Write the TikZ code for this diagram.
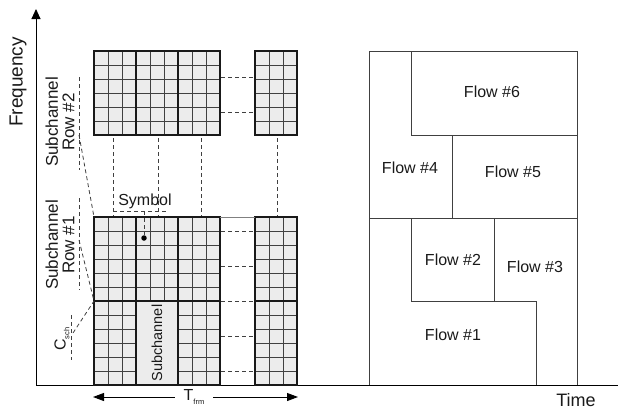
\documentclass[tikz,border=0pt]{standalone}
\usepackage{fontspec}
\setmainfont{Liberation Sans}
\usetikzlibrary{arrows.meta}
\definecolor{cellfill}{HTML}{ECECEC}
\definecolor{gridgray}{HTML}{404040}
\definecolor{txt}{HTML}{1A1A1A}
\begin{document}
\begin{tikzpicture}[x=1pt,y=-1pt,
  thinline/.style={draw=gridgray, line width=0.9pt},
  thickline/.style={draw=black!90, line width=1.8pt},
  dashline/.style={draw=black!75, dash pattern=on 4pt off 3pt, line width=0.8pt},
  flowline/.style={draw=black!75, line width=0.9pt},
  axisline/.style={draw=black, line width=0.9pt},
  lbl/.style={text=txt, inner sep=0pt, font=\fontsize{16}{18}\selectfont},
  sidelbl/.style={text=txt, inner sep=0pt, rotate=90, align=center, font=\fontsize{17}{16.5}\selectfont},
]
\useasboundingbox (0,0) rectangle (618,410);

% ---------- axes ----------
\coordinate (org) at (36,385);
\coordinate (ytop) at (36,9);
\coordinate (xend) at (618,385);
\draw[axisline] (org) -- (xend);
\draw[axisline, -{Triangle[length=10pt,width=9pt]}] (org) -- (ytop);
\node[lbl, rotate=90, font=\fontsize{19}{20}\selectfont] (freq) at (18,82) {Frequency};
\node[lbl, font=\fontsize{18}{20}\selectfont] (time) at (576,400) {Time};

% ---------- top blocks (Row #2) ----------
\fill[cellfill] (94,51) rectangle (220,135);
\fill[cellfill] (255,51) rectangle (297,135);
\foreach \i in {1,...,8} \draw[thinline] ({94+14*\i},51) -- ({94+14*\i},135);
\foreach \i in {1,2} \draw[thinline] ({255+14*\i},51) -- ({255+14*\i},135);
\foreach \j in {1,...,5} {
  \draw[thinline] (94,{51+14*\j}) -- (220,{51+14*\j});
  \draw[thinline] (255,{51+14*\j}) -- (297,{51+14*\j});
}
\draw[thickline] (94,51) rectangle (220,135);
\draw[thickline] (136,51) -- (136,135);
\draw[thickline] (178,51) -- (178,135);
\draw[thickline] (255,51) rectangle (297,135);

% ---------- bottom blocks (Row #1 and below) ----------
\fill[cellfill] (94,217) rectangle (220,385);
\fill[cellfill] (255,217) rectangle (297,385);
\foreach \i in {1,...,8} \draw[thinline] ({94+14*\i},217) -- ({94+14*\i},385);
\foreach \i in {1,2} \draw[thinline] ({255+14*\i},217) -- ({255+14*\i},385);
\foreach \j in {1,...,11} {
  \draw[thinline] (94,{217+14*\j}) -- (220,{217+14*\j});
  \draw[thinline] (255,{217+14*\j}) -- (297,{217+14*\j});
}
% subchannel box
\fill[cellfill] (136,301) rectangle (178,385);
\draw[thickline] (94,217) rectangle (220,385);
\draw[thickline] (136,217) -- (136,385);
\draw[thickline] (178,217) -- (178,385);
\draw[thickline] (94,301) -- (220,301);
\draw[thickline] (255,217) rectangle (297,385);
\draw[thickline] (255,301) -- (297,301);
\node[lbl, rotate=90, font=\fontsize{14.5}{16}\selectfont] (subch) at (157,343) {Subchannel};

% gap between blocks
\draw[draw=gray, line width=1pt] (220,217) -- (255,217);
\foreach \y in {77,112} \draw[dashline] (221,\y) -- (254,\y);
\foreach \y in {231,266,301,336,371} \draw[dashline] (221,\y) -- (254,\y);

% vertical dashed links between rows
\foreach \x in {113,158,201,277} \draw[dashline] (\x,138) -- (\x,216);

% symbol marker
\node[lbl] (symbol) at (145,201) {Symbol};
\draw[dashline] (113,211) -- (168,211);
\coordinate (symtop) at (144,211);
\node[circle, fill=black, inner sep=0pt, minimum size=5.5pt] (dot) at (144,238) {};
\draw[dashline] (symtop) -- (dot);

% ---------- left labels and brackets ----------
\node[sidelbl] (row2) at (60,122) {Subchannel\\Row \#2};
\node[sidelbl] (row1) at (60,245) {Subchannel\\Row \#1};
\draw[dashline] (79,77) -- (79,170);
\draw[dashline] (79,135) -- (94,217);
\draw[dashline] (79,198) -- (79,290);
\draw[dashline] (79,240) -- (94,301);
\draw[dashline] (71,315) -- (71,360);
\draw[dashline] (73,333) -- (94,301);
\node[lbl, rotate=90, font=\fontsize{16}{18}\selectfont] (csch) at (62,339) {C\raisebox{-0.45ex}{\fontsize{7.5}{8}\selectfont sch}};

% ---------- T_frm arrow ----------
\node[lbl, minimum width=38pt, minimum height=14pt] (tfrm) at (194,397) {T\raisebox{-0.5ex}{\fontsize{7.5}{8}\selectfont frm}};
\coordinate (tl) at (93,397);
\coordinate (tr) at (298,397);
\draw[axisline, -{Triangle[length=11pt,width=8pt]}] (tfrm.west) -- (tl);
\draw[axisline, -{Triangle[length=11pt,width=8pt]}] (tfrm.east) -- (tr);

% ---------- flows ----------
\draw[flowline] (369,385) -- (369,51) -- (577,51) -- (577,385);
\draw[flowline] (369,218) -- (577,218);
\draw[flowline] (411,51) -- (411,135) -- (577,135);
\draw[flowline] (452,135) -- (452,218);
\draw[flowline] (411,218) -- (411,301) -- (536,301) -- (536,385);
\draw[flowline] (494,218) -- (494,301);
\node[lbl] (f6) at (492,92) {Flow \#6};
\node[lbl] (f4) at (410,168) {Flow \#4};
\node[lbl] (f5) at (513,172) {Flow \#5};
\node[lbl] (f2) at (453,260) {Flow \#2};
\node[lbl] (f3) at (535,267) {Flow \#3};
\node[lbl] (f1) at (453,335) {Flow \#1};
\end{tikzpicture}
\end{document}
